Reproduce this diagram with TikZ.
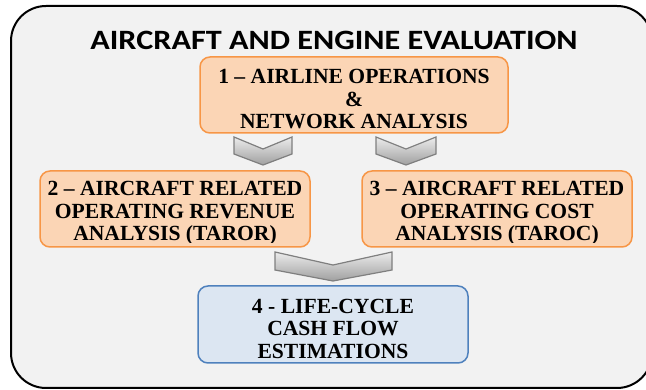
\documentclass[tikz,border=0pt]{standalone}
\usepackage{fontspec}
\setmainfont{Liberation Serif}
\newfontfamily\titlefont[FakeStretch=1.15]{Carlito}
\definecolor{panel}{HTML}{F2F2F2}
\definecolor{peach}{HTML}{FBD5B5}
\definecolor{peachline}{HTML}{F79646}
\definecolor{paleblue}{HTML}{DCE6F2}
\definecolor{blueline}{HTML}{4F81BD}
\definecolor{chevline}{HTML}{7F7F7F}
\begin{document}
\begin{tikzpicture}[x=1pt,y=-1pt,
boxtext/.style={anchor=north,align=center,inner sep=0pt,font=\bfseries\fontsize{21.6}{22.6}\selectfont},
stepbox/.style={line width=1.5pt,rounded corners=10pt,minimum width=270pt,minimum height=76pt,
  path picture={
    \clip ([yshift=4.5pt]path picture bounding box.south west) rectangle (path picture bounding box.north east);
    \node[boxtext] at ([yshift=-3.5pt]path picture bounding box.north) {#1};}},
orangebox/.style={stepbox={#1},draw=peachline,fill=peach},
bluebox/.style={stepbox={#1},draw=blueline,fill=paleblue},
chevron/.style={draw=chevline,line width=1.2pt,line join=miter,top color=white!85!gray,bottom color=gray!75}
]
\useasboundingbox (0,0) rectangle (646,390);
\clip (0,0) rectangle (646,390);
\draw[line width=2pt,fill=panel,rounded corners=35pt] (11,6) rectangle (652,388);
\node[font=\titlefont\bfseries\fontsize{28}{30}\selectfont,inner sep=0pt] (title) at (334,40.5) {AIRCRAFT AND ENGINE EVALUATION};

\node[orangebox={1 -- AIRLINE OPERATIONS\\\&\\NETWORK ANALYSIS},minimum width=308pt] (ops) at (354,95) {};
\node[orangebox={2 -- AIRCRAFT RELATED\\OPERATING REVENUE\\ANALYSIS (TAROR)}] (taror) at (175,209) {};
\node[orangebox={3 -- AIRCRAFT RELATED\\OPERATING COST\\ANALYSIS (TAROC)}] (taroc) at (497,209) {};
\node[bluebox={4 - LIFE-CYCLE\\CASH FLOW\\ESTIMATIONS},minimum height=77pt] (cash) at (333,324.5) {};

% chevrons between the steps
\draw[chevron] (234,137) -- (263,149) -- (292,137) -- (292,154) -- (263,165) -- (234,154) -- cycle;
\draw[chevron] (376,137) -- (406,149) -- (436,137) -- (436,154) -- (406,165) -- (376,154) -- cycle;
\draw[chevron] (275,252) -- (333,265) -- (392,252) -- (392,270) -- (333,281) -- (275,270) -- cycle;
\end{tikzpicture}
\end{document}
